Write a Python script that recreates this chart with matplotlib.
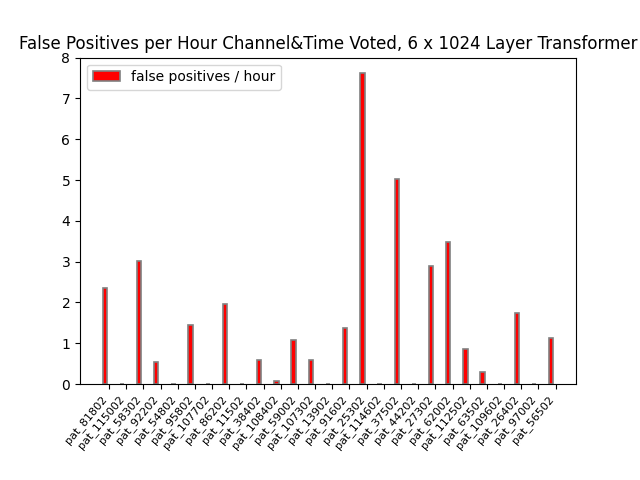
import numpy as np
import matplotlib
matplotlib.use("Agg")
import matplotlib.pyplot as plt

patients = ["pat_81802", "pat_115002", "pat_58302", "pat_92202", "pat_54802",
            "pat_95802", "pat_107702", "pat_86202", "pat_11502", "pat_38402",
            "pat_108402", "pat_59002", "pat_107302", "pat_13902", "pat_91602",
            "pat_25302", "pat_114602", "pat_37502", "pat_44202", "pat_27302",
            "pat_62002", "pat_112502", "pat_63502", "pat_109602", "pat_26402",
            "pat_97002", "pat_56502"]
fp_per_hour = [2.36, 0.0, 3.02, 0.54, 0.0,
               1.45, 0.0, 1.96, 0.0, 0.59,
               0.07, 1.09, 0.59, 0.0, 1.37,
               7.62, 0.0, 5.03, 0.0, 2.90,
               3.48, 0.86, 0.29, 0.0, 1.74,
               0.0, 1.12]

largeur = 0.25
x = np.arange(len(patients))

fig, ax = plt.subplots(figsize=(6.4, 4.8), dpi=100)
fig.subplots_adjust(bottom=0.2)
ax.bar(x, fp_per_hour, width=largeur, color="red", edgecolor="grey",
       linewidth=1.2, label="false positives / hour")
ax.set_xticks(x + largeur)
ax.set_xticklabels(patients, rotation=50, ha="right", fontsize=8)
ax.set_ylim(0, 8)
ax.set_title("False Positives per Hour Channel&Time Voted, 6 x 1024 Layer Transformer")
ax.legend(loc="upper left")

fig.savefig("out.png", dpi=100)
